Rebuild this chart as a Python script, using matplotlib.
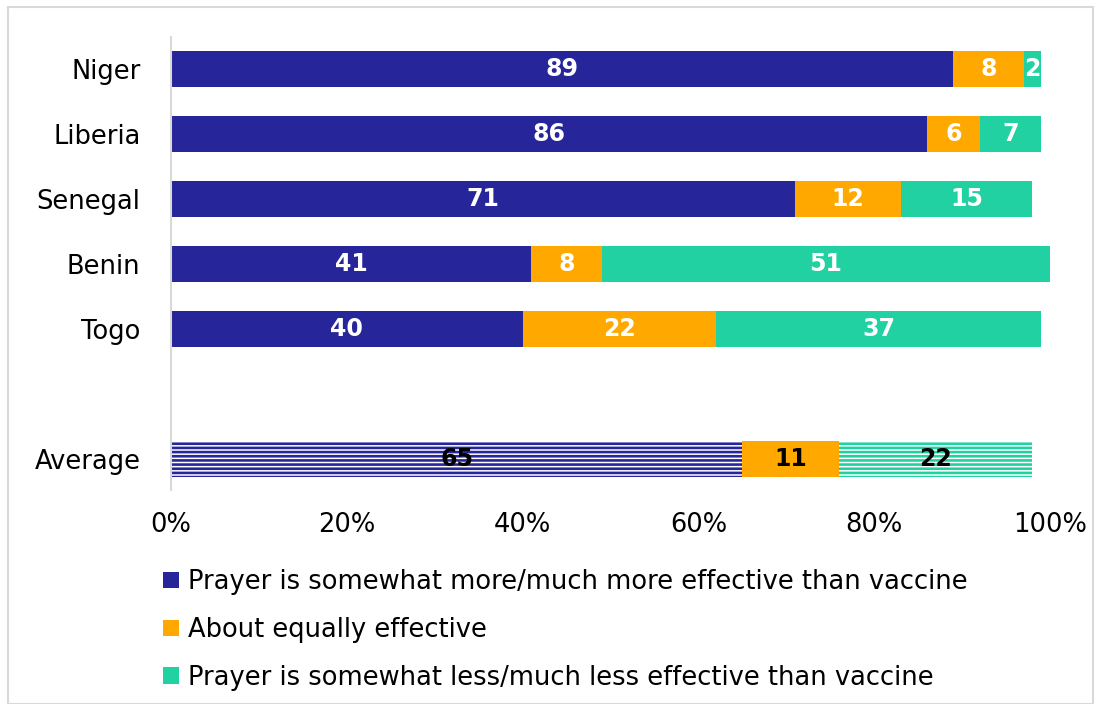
import matplotlib
matplotlib.use('Agg')
import matplotlib.pyplot as plt
from matplotlib.patches import Patch, Rectangle

# data
countries = ['Niger', 'Liberia', 'Senegal', 'Benin', 'Togo', 'Average']
more_effective = [89, 86, 71, 41, 40, 65]
equally_effective = [8, 6, 12, 8, 22, 11]
less_effective = [2, 7, 15, 51, 37, 22]
series_labels = ['Prayer is somewhat more/much more effective than vaccine',
                 'About equally effective',
                 'Prayer is somewhat less/much less effective than vaccine']
xticks = [0, 20, 40, 60, 80, 100]

navy = '#27259A'
orange = '#FFA800'
teal = '#22D1A2'
colors = [navy, orange, teal]

plt.rcParams['font.family'] = ['DejaVu Sans']
plt.rcParams['hatch.linewidth'] = 1.9

fig = plt.figure(figsize=(11.01, 7.04), dpi=100)
ax = fig.add_axes([171 / 1101, 1 - 490 / 704, (1050 - 171) / 1101, (490 - 37) / 704])

# positions: five countries then a gap, then the average
ypos = [0, 1, 2, 3, 4, 6]
bar_h = 0.55

for i, name in enumerate(countries):
    vals = [more_effective[i], equally_effective[i], less_effective[i]]
    left = 0
    is_avg = name == 'Average'
    for j, v in enumerate(vals):
        if is_avg and j != 1:
            ax.barh(ypos[i], v, left=left, height=bar_h, color='white',
                    edgecolor=colors[j], hatch='----', linewidth=0)
        else:
            ax.barh(ypos[i], v, left=left, height=bar_h, color=colors[j], linewidth=0)
        txt_color = 'black' if is_avg else 'white'
        ax.text(left + v / 2, ypos[i], str(v), ha='center', va='center',
                color=txt_color, fontsize=17, fontweight='bold')
        left += v

ax.set_xlim(0, 100)
ax.set_ylim(6.48, -0.49)
ax.set_yticks(ypos)
ax.set_yticklabels(countries, fontsize=18.5)
ax.set_xticks(xticks)
ax.set_xticklabels([f'{t}%' for t in xticks], fontsize=18.5)
ax.tick_params(axis='both', length=0)
ax.tick_params(axis='y', pad=22)
ax.tick_params(axis='x', pad=16)
for side in ['top', 'right', 'bottom']:
    ax.spines[side].set_visible(False)
ax.spines['left'].set_color('#d9d9d9')
ax.spines['left'].set_linewidth(1.5)

handles = [Patch(facecolor=c, edgecolor='none') for c in colors]
fig.legend(handles, series_labels, loc='upper left', bbox_to_anchor=(140 / 1101, 1 - 546 / 704),
           frameon=False, fontsize=18.5, handlelength=0.62, handleheight=0.62,
           handletextpad=0.35, labelspacing=0.85)

# light frame around the whole chart
fig.patches.append(Rectangle((8 / 1101, 0), 1 - 16 / 1101, 1 - 7 / 704,
                             transform=fig.transFigure, fill=False,
                             edgecolor='#d9d9d9', linewidth=1.5))

fig.savefig('out.png', dpi=100)
